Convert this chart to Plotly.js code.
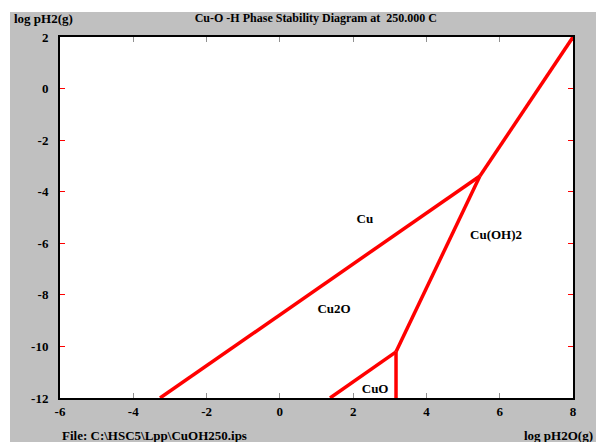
<!DOCTYPE html>
<html><head><meta charset="utf-8">
<script src="https://cdn.plot.ly/plotly-3.0.1.min.js"></script>
<style>html,body{margin:0;padding:0;background:#ffffff}</style>
</head><body><div id="chart" style="width:596px;height:442px"></div>
<script>
// Boundary lines (log pH2O, log pH2)
const cuCu2oX = [-3.27, 5.46];
const cuCu2oY = [-12, -3.39];
const cuCuoh2X = [5.46, 8.0];
const cuCuoh2Y = [-3.39, 2.0];
const cu2oCuoh2X = [5.46, 3.17];
const cu2oCuoh2Y = [-3.39, -10.21];
const cu2oCuoX = [1.37, 3.17];
const cu2oCuoY = [-12, -10.21];
const cuoCuoh2X = [3.17, 3.17];
const cuoCuoh2Y = [-10.21, -12];

const phaseNames = ["Cu", "Cu(OH)2", "Cu2O", "CuO"];
const phaseX = [2.32, 5.9, 1.48, 2.6];
const phaseY = [-5.1, -5.72, -8.59, -11.69];

const xTicks = [-6, -4, -2, 0, 2, 4, 6, 8];
const yTicks = [2, 0, -2, -4, -6, -8, -10, -12];

const fam = "Liberation Serif, Times New Roman, serif";
const font = {family: fam, size: 13, color: "#000"};
const boldTxt = t => "<b>" + t + "</b>";
const line = {color: "#ff0000", width: 3.5};

const segs = [[cuCu2oX, cuCu2oY], [cuCuoh2X, cuCuoh2Y], [cu2oCuoh2X, cu2oCuoh2Y], [cu2oCuoX, cu2oCuoY], [cuoCuoh2X, cuoCuoh2Y]];
const traces = segs.map(s => ({x: s[0], y: s[1], mode: "lines", line: line, hoverinfo: "skip", showlegend: false}));
traces.push({x: phaseX, y: phaseY, mode: "text", text: phaseNames.map(boldTxt), textfont: {family: fam, size: 13, color: "#000"}, showlegend: false, hoverinfo: "skip"});

const layout = {
  width: 596, height: 442,
  paper_bgcolor: "#c0c0c0", plot_bgcolor: "#ffffff",
  margin: {l: 60, r: 23, t: 37, b: 44},
  showlegend: false,
  title: {text: boldTxt("Cu-O -H Phase Stability Diagram at  250.000 C"), font: {family: fam, size: 12, color: "#000"}, x: 0.53, xanchor: "center", y: 0.959, yanchor: "middle"},
  xaxis: {range: [-6, 8], tickvals: xTicks, ticktext: xTicks.map(v => boldTxt(String(v))), ticks: "inside", ticklen: 5, tickcolor: "#909090", tickwidth: 1,
    showgrid: false, zeroline: false, showline: true, linecolor: "#000", linewidth: 2, mirror: "ticks", tickfont: font, fixedrange: true},
  yaxis: {range: [-12, 2], tickvals: yTicks, ticktext: yTicks.map(v => boldTxt(String(v))), ticks: "inside", ticklen: 5, tickcolor: "#ff0000", tickwidth: 1,
    showgrid: false, zeroline: false, showline: true, linecolor: "#000", linewidth: 2, mirror: "ticks", tickfont: font, fixedrange: true, ticklabelstandoff: 7},
  shapes: [
    {type: "rect", xref: "paper", yref: "paper", x0: -0.12, x1: 1.06, y0: 1.069, y1: 1.11, fillcolor: "#ffffff", line: {width: 0}, layer: "below"},
    {type: "rect", xref: "paper", yref: "paper", x0: -0.12, x1: -50/513, y0: -0.13, y1: 1.11, fillcolor: "#ffffff", line: {width: 0}, layer: "below"}
  ],
  annotations: [
    {text: boldTxt("log pH2(g)"), xref: "paper", yref: "paper", x: -0.093, y: 1.0526, xanchor: "left", yanchor: "middle", showarrow: false, font: font},
    {text: boldTxt("File: C:\\HSC5\\Lpp\\CuOH250.ips"), xref: "paper", yref: "paper", x: 0.0, y: -0.105, xanchor: "left", yanchor: "middle", showarrow: false, font: font},
    {text: boldTxt("log pH2O(g)"), xref: "paper", yref: "paper", x: 1.043, y: -0.105, xanchor: "right", yanchor: "middle", showarrow: false, font: font}
  ]
};
Plotly.newPlot("chart", traces, layout, {displayModeBar: false, staticPlot: true});
</script></body></html>
